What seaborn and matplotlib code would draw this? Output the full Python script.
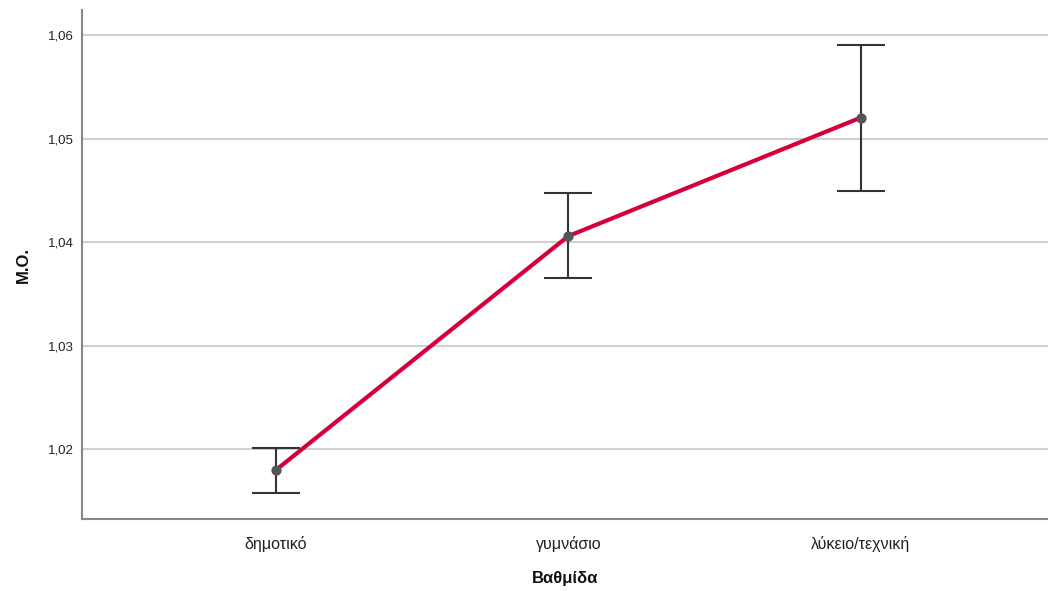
import matplotlib
matplotlib.use("Agg")
import matplotlib.pyplot as plt
import seaborn as sns
import pandas as pd

categories = ["δημοτικό", "γυμνάσιο", "λύκειο/τεχνική"]
means = [1.01797, 1.04058, 1.05203]
err_low = [1.01575, 1.03652, 1.04493]
err_high = [1.02010, 1.04473, 1.05903]
yticks = [1.02, 1.03, 1.04, 1.05, 1.06]
ytick_labels = ["1,02", "1,03", "1,04", "1,05", "1,06"]

sns.set_theme(style="white")
plt.rcParams["font.family"] = ["Liberation Sans", "DejaVu Sans"]

df = pd.DataFrame({"Βαθμίδα": categories, "M.O.": means})

fig = plt.figure(figsize=(10.48, 5.91), dpi=100)
ax = fig.add_axes([0.0782, 0.1218, 0.9218, 0.8612])

for t in yticks:
    ax.axhline(t, color="#d0d0d0", lw=1.5, zorder=0)

ax.errorbar(range(len(categories)), means,
            yerr=[[m - l for m, l in zip(means, err_low)],
                  [h - m for m, h in zip(means, err_high)]],
            fmt="none", ecolor="#333333", elinewidth=1.5, capsize=17, capthick=1.5, zorder=2)

sns.pointplot(data=df, x="Βαθμίδα", y="M.O.", color="#d5003a", errorbar=None,
              markers="", linewidth=3, ax=ax, zorder=3)
ax.scatter(range(len(categories)), means, s=55, color="#555555", zorder=4, linewidths=0)

ax.set_xlim(-0.663, 2.64)
ax.set_ylim(1.01324, 1.06242)
ax.set_yticks(yticks)
ax.set_yticklabels(ytick_labels, fontsize=9.5, color="#222222")
ax.set_xticks(range(len(categories)))
ax.set_xticklabels(categories, fontsize=11.5, color="#222222")
ax.tick_params(axis="y", length=0, pad=6)
ax.tick_params(axis="x", length=0, pad=12)

ax.set_xlabel("Βαθμίδα", fontsize=12, fontweight="bold", labelpad=14, color="#111111")
ax.set_ylabel("M.O.", fontsize=12, fontweight="bold", labelpad=12, color="#111111")

for s in ["top", "right"]:
    ax.spines[s].set_visible(False)
for s in ["left", "bottom"]:
    ax.spines[s].set_color("#888888")
    ax.spines[s].set_linewidth(1.5)

fig.savefig("out.png", dpi=100)
